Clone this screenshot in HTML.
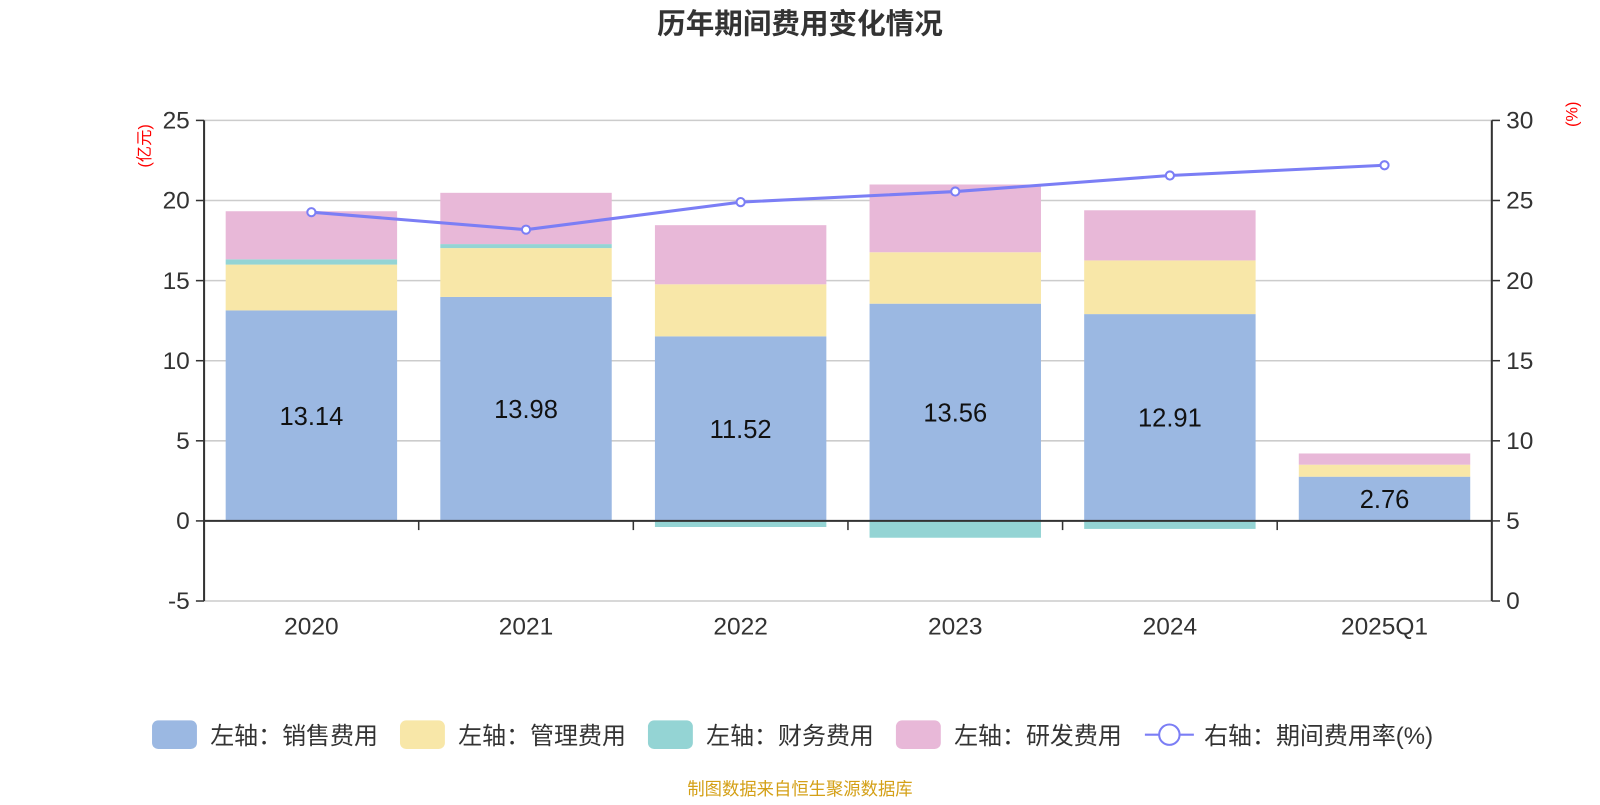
<!DOCTYPE html>
<html><head><meta charset="utf-8"><style>
body{margin:0;background:#fff;font-family:"Liberation Sans","Noto Sans CJK SC",sans-serif;}
svg text{font-family:"Liberation Sans","Noto Sans CJK SC",sans-serif;}
</style></head><body>
<svg id="c" width="1600" height="800">
<g transform="scale(1.0204)">
<text x="784" y="33" text-anchor="middle" font-size="28" font-weight="bold" fill="#333">历年期间费用变化情况</text>
<text transform="translate(147,143) rotate(-90)" text-anchor="middle" font-size="16" fill="red">(亿元)</text>
<text transform="translate(1546,112) rotate(-90)" text-anchor="middle" font-size="16" fill="red">(%)</text>
<g id="grid"></g><g id="bars"></g><g id="axes"></g><g id="line"></g><g id="legend"></g>
<text x="784" y="779" text-anchor="middle" font-size="17" fill="#d4a017">制图数据来自恒生聚源数据库</text>
</g>
</svg>
<script>
const categories=["2020","2021","2022","2023","2024","2025Q1"];
const sales=[13.14,13.98,11.52,13.56,12.91,2.76];
const mgmt=[2.86,3.05,3.25,3.21,3.35,0.75];
const fin=[0.33,0.25,-0.38,-1.05,-0.5,-0.05];
const rnd=[3.0,3.2,3.69,4.23,3.13,0.7];
const rate=[24.27,23.18,24.9,25.56,26.56,27.2];
const leftTicks=[-5,0,5,10,15,20,25];
const rightTicks=[0,5,10,15,20,25,30];
const NS="http://www.w3.org/2000/svg";
const X0=200,X1=1462,TOP=118,BOT=589;
const yL=v=>TOP+(25-v)/30*(BOT-TOP);
const yR=v=>TOP+(30-v)/30*(BOT-TOP);
const bw=(X1-X0)/categories.length;
const xc=i=>X0+bw*(i+0.5);
function mk(t,a,p){const e=document.createElementNS(NS,t);for(const k in a)e.setAttribute(k,a[k]);document.getElementById(p).appendChild(e);return e;}
leftTicks.forEach((v,i)=>{
 const g=mk('line',{x1:X0,x2:X1,y1:yL(v),y2:yL(v),stroke:'#ccc','stroke-width':1.5},'grid');
 
 
 const t=mk('text',{x:X0-14,y:yL(v)+8,'text-anchor':'end','font-size':24,fill:'#333'},'axes');t.textContent=v;
 
 
 mk('line',{x1:X0-8,x2:X0,y1:yL(v),y2:yL(v),stroke:'#333','stroke-width':1.5},'axes');
});
rightTicks.forEach(v=>{
 const t=mk('text',{x:X1+14,y:yR(v)+8,'font-size':24,fill:'#333'},'axes');t.textContent=v;
 
 
 mk('line',{x1:X1,x2:X1+8,y1:yR(v),y2:yR(v),stroke:'#333','stroke-width':1.5},'axes');
});
mk('line',{x1:X0,x2:X0,y1:TOP,y2:BOT,stroke:'#333','stroke-width':2},'axes');
mk('line',{x1:X1,x2:X1,y1:TOP,y2:BOT,stroke:'#333','stroke-width':2},'axes');
mk('line',{x1:X0,x2:X1,y1:yL(0),y2:yL(0),stroke:'#333','stroke-width':2},'axes');
for(let i=0;i<=categories.length;i++)mk('line',{x1:X0+bw*i,x2:X0+bw*i,y1:yL(0),y2:yL(0)+9,stroke:'#333','stroke-width':1.5},'axes');
const colors=['#9bb8e2','#f8e7a8','#94d4d4','#e8b8d8'];
const names=['sales','mgmt','finance','rnd'];
categories.forEach((c,i)=>{
 const vals=[sales[i],mgmt[i],fin[i],rnd[i]];let pos=0,neg=0;
 vals.forEach((v,k)=>{
  let a,b;if(v>=0){a=pos;b=pos+v;pos=b;}else{a=neg;b=neg+v;neg=b;}
  const r=mk('rect',{x:xc(i)-84,width:168,y:Math.min(yL(a),yL(b)),height:Math.abs(yL(a)-yL(b)),fill:colors[k]},'bars');
  
  
 });
 const t=mk('text',{x:xc(i),y:(yL(0)+yL(sales[i]))/2+9,'text-anchor':'middle','font-size':25,fill:'#111'},'bars');t.textContent=sales[i].toFixed(2);
 
 
 const xl=mk('text',{x:xc(i),y:622,'text-anchor':'middle','font-size':24,fill:'#333'},'axes');xl.textContent=c;
 
 
});
const pl=mk('polyline',{points:rate.map((v,i)=>xc(i)+','+yR(v)).join(' '),fill:'none',stroke:'#7b7ef5','stroke-width':3},'line');


rate.forEach((v,i)=>{const p=mk('circle',{cx:xc(i),cy:yR(v),r:4,fill:'#fff',stroke:'#7b7ef5','stroke-width':2},'line');
 
 });
const leg=[['左轴：销售费用',149],['左轴：管理费用',392],['左轴：财务费用',635],['左轴：研发费用',878]];
leg.forEach((l,k)=>{
 const r=mk('rect',{x:l[1],y:706,width:44,height:28,rx:6,fill:colors[k]},'legend');
 
 
 const t=mk('text',{x:l[1]+57,y:729,'font-size':23.5,fill:'#333'},'legend');t.textContent=l[0];
 
 
});
mk('line',{x1:1122,x2:1170,y1:720,y2:720,stroke:'#7b7ef5','stroke-width':2},'legend');
mk('circle',{cx:1146,cy:720,r:10,fill:'#fff',stroke:'#7b7ef5','stroke-width':2},'legend');
const lt=mk('text',{x:1180,y:729,'font-size':23.5,fill:'#333'},'legend');lt.textContent='右轴：期间费用率(%)';


</script>
</body></html>
